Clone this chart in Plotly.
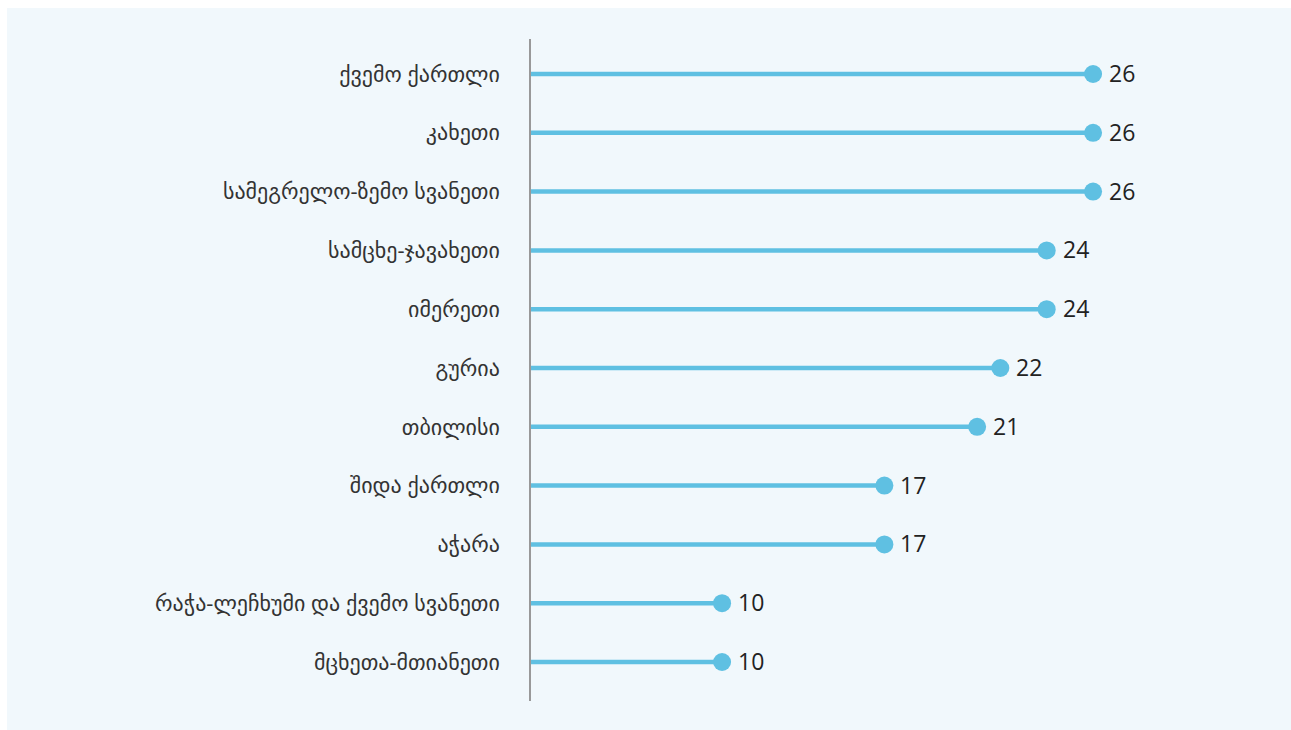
import plotly.graph_objects as go

# categories listed top to bottom as in the chart
regions = [
    "ქვემო ქართლი",
    "კახეთი",
    "სამეგრელო-ზემო სვანეთი",
    "სამცხე-ჯავახეთი",
    "იმერეთი",
    "გურია",
    "თბილისი",
    "შიდა ქართლი",
    "აჭარა",
    "რაჭა-ლეჩხუმი და ქვემო სვანეთი",
    "მცხეთა-მთიანეთი",
]
values = [26, 26, 26, 24, 24, 22, 21, 17, 17, 10, 10]

# plot bottom-to-top
cats = regions[::-1]
vals = values[::-1]

COLOR = "#5fc0e2"
W, H = 1291, 730
L, R, T, B = 531, 80, 39, 29
PW, PH = W - L - R, H - T - B

fig = go.Figure()

xs, ys = [], []
for c, v in zip(cats, vals):
    xs += [0, v, None]
    ys += [c, c, None]
fig.add_trace(go.Scatter(x=xs, y=ys, mode="lines",
                         line=dict(color=COLOR, width=4.5),
                         hoverinfo="skip", showlegend=False))
fig.add_trace(go.Scatter(x=vals, y=cats, mode="markers",
                         marker=dict(color=COLOR, size=18),
                         cliponaxis=False, showlegend=False))
for c, v in zip(cats, vals):
    fig.add_annotation(x=v, y=c, text=str(v), showarrow=False,
                       xanchor="left", yanchor="middle", xshift=14, yshift=1,
                       font=dict(size=23, color="#222222", family="Open Sans"))

# light background panel offset from the page edge
fig.add_shape(type="rect", xref="paper", yref="paper", layer="below",
              x0=(7 - L) / PW, x1=(W + 10 - L) / PW,
              y0=(H - B - (H + 10)) / PH, y1=(H - B - 8) / PH,
              fillcolor="#f1f8fc", line=dict(width=0))

fig.update_layout(
    width=W, height=H,
    paper_bgcolor="#ffffff", plot_bgcolor="rgba(0,0,0,0)",
    margin=dict(l=L, r=R, t=T, b=B),
    font=dict(family="Open Sans, DejaVu Sans", color="#333333", size=18),
)
x0 = 1.76
fig.update_xaxes(range=[x0, x0 + PW / 23.1875], visible=False, showgrid=False, zeroline=False)
fig.update_yaxes(type="category", categoryorder="array", categoryarray=cats,
                 range=[-0.663, 10.595], showgrid=False, zeroline=False,
                 showline=True, linecolor="#999999", linewidth=1.5,
                 ticks="", ticklabelstandoff=25,
                 tickfont=dict(size=22, color="#333333"))

fig.write_html("out.html")
